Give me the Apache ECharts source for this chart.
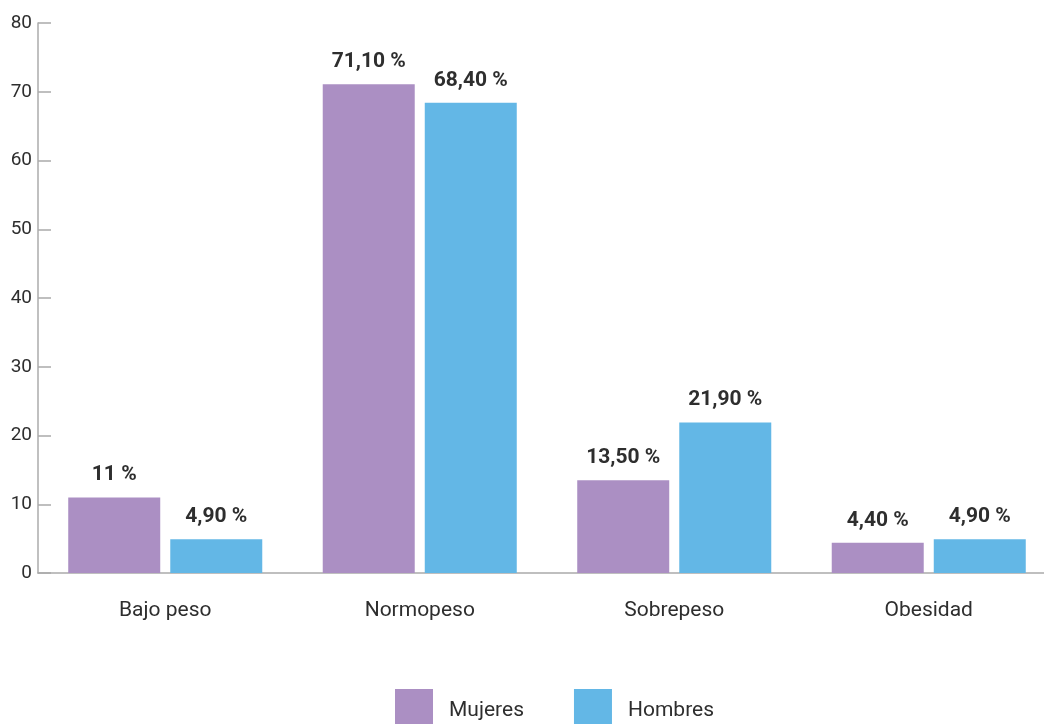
<!DOCTYPE html>
<html>
<head>
<meta charset="utf-8">
<script src="https://cdn.jsdelivr.net/npm/echarts@6/dist/echarts.min.js"></script>
<style>
  html, body { margin: 0; padding: 0; background: #fff; overflow: hidden; }
  /* the plot runs slightly past the right edge of the window */
  #chart { width: 1056px; height: 724px; }
</style>
</head>
<body>
<div id="chart"></div>
<script>
// Estado ponderal por sexo (%)
const categories = ['Bajo peso', 'Normopeso', 'Sobrepeso', 'Obesidad'];
const mujeres = [11, 71.1, 13.5, 4.4];
const hombres = [4.9, 68.4, 21.9, 4.9];
const yTicks = [0, 10, 20, 30, 40, 50, 60, 70, 80];

const FONT = 'Roboto, "Noto Sans", sans-serif';
const TEXT = '#2e2e2e';
const AXIS = '#ababab';

function pct(v) {
  return Number.isInteger(v) ? v + ' %' : v.toFixed(2).replace('.', ',') + ' %';
}

const labelStyle = {
  show: true,
  position: 'top',
  distance: 12,
  formatter: p => pct(p.value),
  fontFamily: FONT,
  fontSize: 21,
  fontWeight: 'bold',
  color: TEXT
};

const chart = echarts.init(document.getElementById('chart'), null, { renderer: 'canvas' });
chart.setOption({
  animation: false,
  backgroundColor: '#ffffff',
  grid: { left: 38, top: 23, bottom: 151, right: 0, containLabel: false },
  legend: {
    data: ['Mujeres', 'Hombres'],
    top: 684,
    left: 390,
    itemWidth: 38,
    itemHeight: 44,
    itemGap: 50,
    icon: 'rect',
    textStyle: { fontFamily: FONT, fontSize: 21, color: TEXT, padding: [0, 0, 0, 11] }
  },
  xAxis: {
    type: 'category',
    data: categories,
    axisLine: { lineStyle: { color: AXIS, width: 1.5 } },
    axisTick: { show: false },
    axisLabel: { fontFamily: FONT, fontSize: 21, color: TEXT, margin: 27 }
  },
  yAxis: {
    type: 'value',
    min: yTicks[0],
    max: yTicks[yTicks.length - 1],
    interval: yTicks[1] - yTicks[0],
    axisLine: { show: true, lineStyle: { color: AXIS, width: 1.5 } },
    axisTick: { show: true, inside: true, length: 13, lineStyle: { color: AXIS, width: 1.5 } },
    splitLine: { show: false },
    axisLabel: { fontFamily: FONT, fontSize: 19, color: TEXT, margin: 6 }
  },
  series: [
    {
      name: 'Mujeres',
      type: 'bar',
      data: mujeres,
      barWidth: 92,
      barGap: '10.9%',
      itemStyle: { color: '#ab8fc3' },
      label: labelStyle
    },
    {
      name: 'Hombres',
      type: 'bar',
      data: hombres,
      barWidth: 92,
      itemStyle: { color: '#63b7e6' },
      label: labelStyle
    }
  ]
});
</script>
</body>
</html>
